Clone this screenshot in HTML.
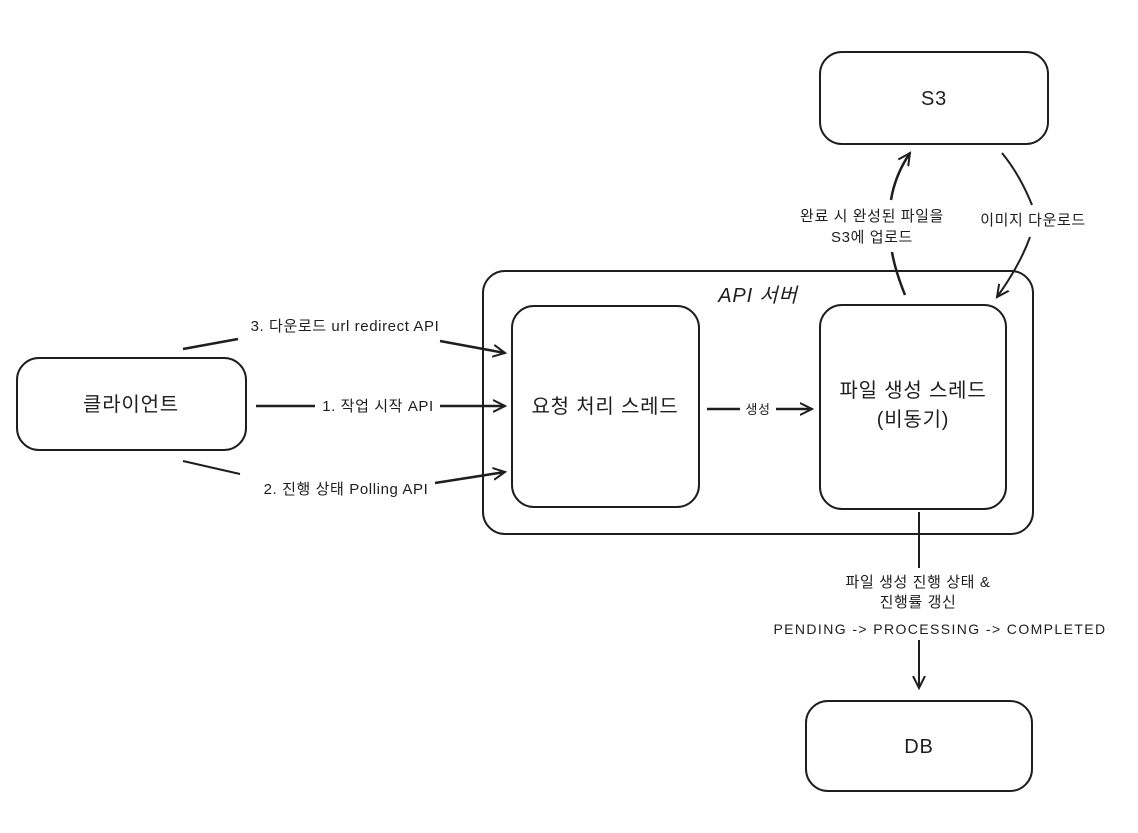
<!DOCTYPE html>
<html><head><meta charset="utf-8"><style>
html,body{margin:0;padding:0;background:#fff}
svg text{font-family:"Liberation Sans","Noto Sans CJK KR",sans-serif;fill:#1e1e1e}
</style></head><body>
<svg width="1138" height="828" viewBox="0 0 1138 828" xmlns="http://www.w3.org/2000/svg">
<defs>
<marker id="a" markerWidth="14" markerHeight="14" refX="12" refY="7" orient="auto" markerUnits="userSpaceOnUse">
<path d="M0,1 L12,7 L0,13" fill="none" stroke="#1e1e1e" stroke-width="2"/>
</marker>
</defs>
<g fill="none" stroke="#1e1e1e" stroke-width="2">
<rect x="820" y="52" width="228" height="92" rx="22"/>
<rect x="483" y="271" width="550" height="263" rx="22"/>
<rect x="512" y="306" width="187" height="201" rx="22"/>
<rect x="820" y="305" width="186" height="204" rx="22"/>
<rect x="17" y="358" width="229" height="92" rx="22"/>
<rect x="806" y="701" width="226" height="90" rx="22"/>
<line x1="183" y1="349" x2="238" y2="339" stroke-width="2.5"/>
<line x1="440" y1="341" x2="505" y2="353" stroke-width="2.5" marker-end="url(#a)"/>
<line x1="256" y1="406" x2="315" y2="406" stroke-width="2.5"/>
<line x1="440" y1="406" x2="505" y2="406" stroke-width="2.5" marker-end="url(#a)"/>
<line x1="183" y1="461" x2="240" y2="474" stroke-width="2"/>
<line x1="435" y1="483" x2="505" y2="472" stroke-width="2.5" marker-end="url(#a)"/>
<line x1="707" y1="409" x2="740" y2="409" stroke-width="2.5"/>
<line x1="776" y1="409" x2="812" y2="409" stroke-width="2.5" marker-end="url(#a)"/>
<path d="M905 295 Q895 270 892 252" stroke-width="2.5"/>
<path d="M891 200 Q895 175 910 153" stroke-width="2.5" marker-end="url(#a)"/>
<path d="M1002 153 Q1020 175 1032 205" stroke-width="2"/>
<path d="M1030 237 Q1020 265 997 297" stroke-width="2" marker-end="url(#a)"/>
<line x1="919" y1="512" x2="919" y2="568" stroke-width="2"/>
<line x1="919" y1="640" x2="919" y2="688" stroke-width="2" marker-end="url(#a)"/>
</g>
<g font-size="15" text-anchor="middle" letter-spacing="0.6">
<text x="345" y="331">3. 다운로드 url redirect API</text>
<text x="378" y="411">1. 작업 시작 API</text>
<text x="346" y="494">2. 진행 상태 Polling API</text>
<text x="758" y="414" font-size="13">생성</text>
<text x="872" y="221">완료 시 완성된 파일을</text>
<text x="872" y="242">S3에 업로드</text>
<text x="1033" y="225">이미지 다운로드</text>
<text x="918" y="587">파일 생성 진행 상태 &amp;</text>
<text x="918" y="607">진행률 갱신</text>
<text x="940" y="634" font-size="14" letter-spacing="1.4">PENDING -&gt; PROCESSING -&gt; COMPLETED</text>
</g>
<g font-size="20" text-anchor="middle" letter-spacing="0.8">
<text x="934" y="105">S3</text>
<text x="758" y="302" font-style="italic">API 서버</text>
<text x="605" y="413">요청 처리 스레드</text>
<text x="913" y="397">파일 생성 스레드</text>
<text x="913" y="426">(비동기)</text>
<text x="131" y="411">클라이언트</text>
<text x="919" y="753">DB</text>
</g>
</svg>
</body></html>
